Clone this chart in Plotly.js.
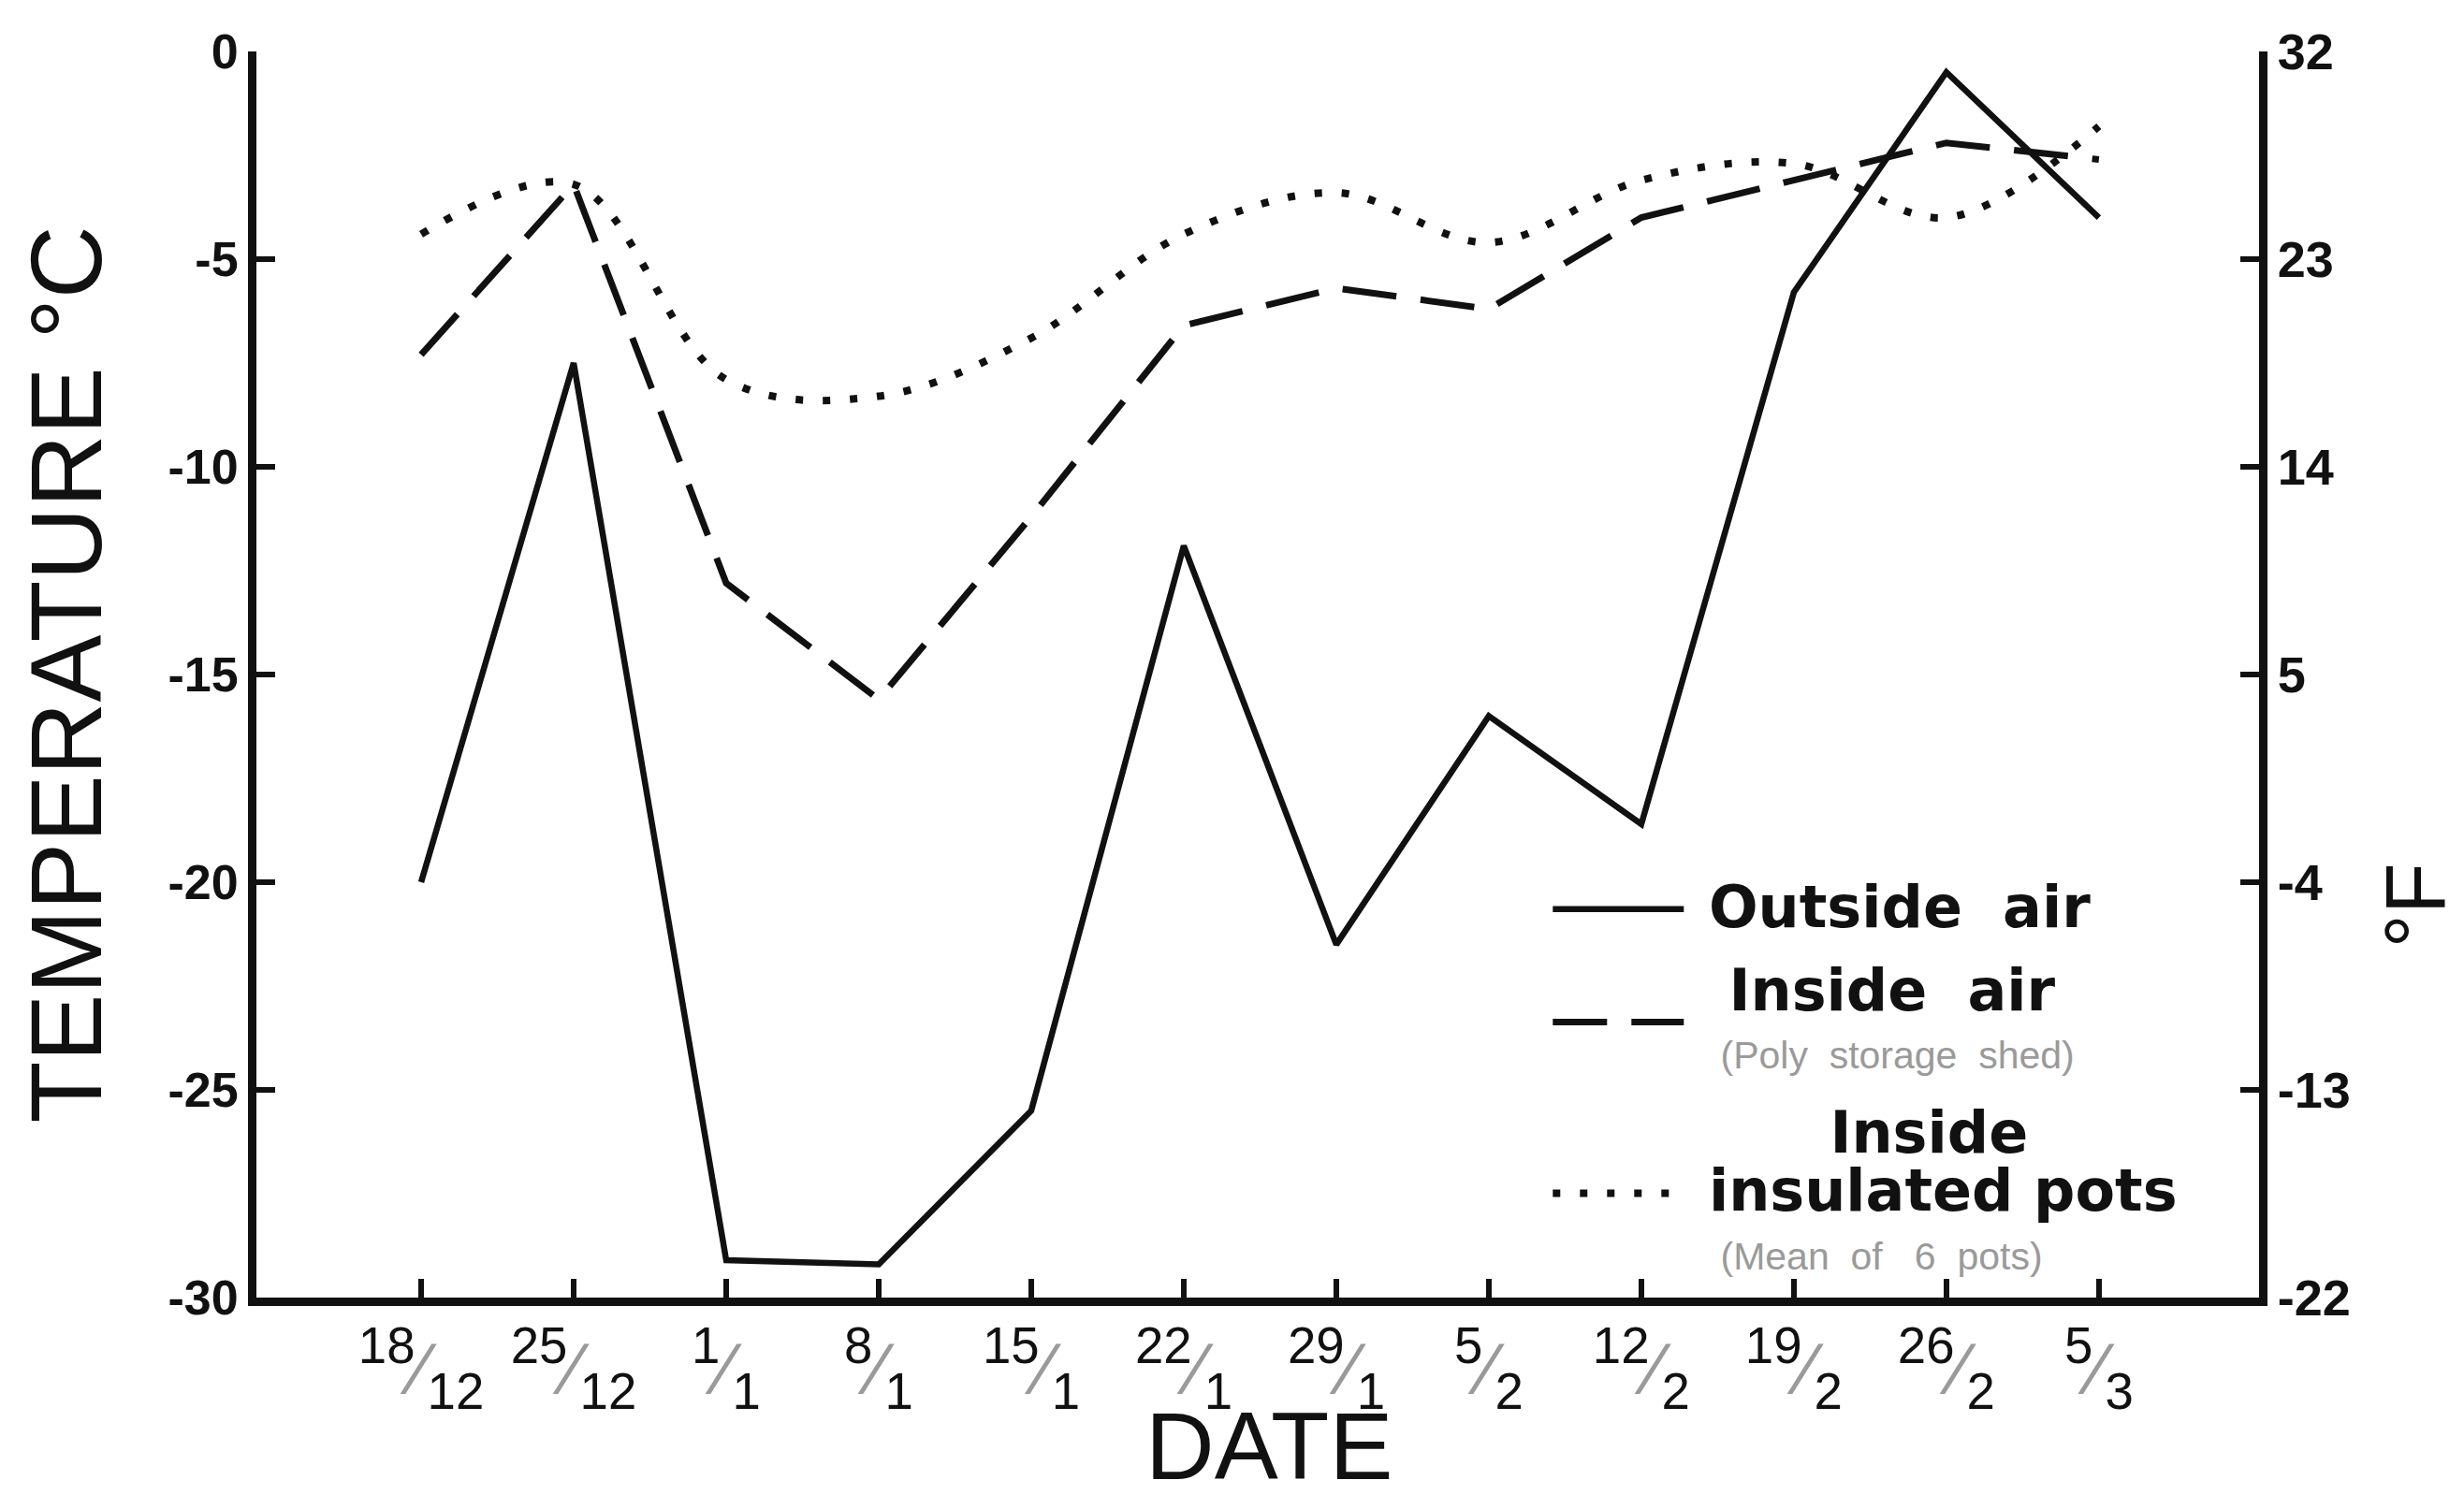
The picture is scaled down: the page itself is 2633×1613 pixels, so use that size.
<!DOCTYPE html>
<html>
<head>
<meta charset="utf-8">
<script src="https://cdn.plot.ly/plotly-3.0.1.min.js"></script>
<style>html,body{margin:0;padding:0;background:#fff;}#chart{width:2633px;height:1613px;}</style>
</head>
<body>
<div id="chart"></div>
<script>
// ---- data ----
const dates = ['18/12','25/12','1/1','8/1','15/1','22/1','29/1','5/2','12/2','19/2','26/2','5/3'];
const outsideAir = [-20.0, -7.5, -29.1, -29.2, -25.5, -11.9, -21.5, -16.0, -18.6, -5.8, -0.5, -4.0];
const insideAir  = [-7.3, -3.2, -12.8, -15.6, -11.2, -6.6, -5.7, -6.2, -4.0, -3.1, -2.2, -2.6];
const insidePots = [-4.4, -3.2, -7.9, -8.3, -6.9, -4.4, -3.4, -4.6, -3.1, -2.7, -4.0, -1.8];
const celsiusTicks = [0, -5, -10, -15, -20, -25, -30];
const fahrenheitTicks = [32, 23, 14, 5, -4, -13, -22];
const BIG = '<span style="font-size:62px">';
const SMALL = '<span style="font-size:41px;color:#9a9a9a;font-weight:normal;font-family:Liberation Sans, Arial, sans-serif">';
const NB = '\u00a0';
const seriesNames = [
  BIG + NB + 'Outside' + NB + NB + 'air</span>',
  BIG + NB + NB + 'Inside' + NB + NB + 'air</span><br>' + SMALL + NB + NB + NB + '(Poly' + NB + NB + 'storage' + NB + NB + 'shed)</span>',
  BIG + NB + NB + NB + NB + NB + NB + NB + 'Inside</span><br>' + BIG + NB + 'insulated' + NB + 'pots</span><br>' + SMALL + NB + NB + NB + '(Mean' + NB + NB + 'of' + NB + NB + NB + '6' + NB + NB + 'pots)</span>'
];

// fraction style tick labels built from the dates
const dateLabels = dates.map(d => {
  const p = d.split('/');
  return '<sup>' + p[0] + '</sup><span style="color:#9a9a9a">\u2044</span><sub>' + p[1] + '</sub>';
});

const FONT = 'Liberation Sans, Arial, sans-serif';
const LEGFONT = 'DejaVu Sans, Liberation Sans, sans-serif';

const traces = [
  {x: dates, y: outsideAir, name: seriesNames[0], type: 'scatter', mode: 'lines', legendgroup: 'a',
   line: {color: '#111', width: 6.5}},
  {x: dates, y: insideAir, name: seriesNames[1], type: 'scatter', mode: 'lines', legendgroup: 'b',
   line: {color: '#111', width: 7, dash: '58px,26px'}},
  {x: dates, y: insidePots, name: seriesNames[2], type: 'scatter', mode: 'lines', legendgroup: 'c',
   line: {color: '#111', width: 8, dash: '8px,21px', shape: 'spline', smoothing: 1}},
  // carries the Fahrenheit axis (no marks)
  {x: [], y: [], type: 'scatter', mode: 'lines', yaxis: 'y2', showlegend: false, hoverinfo: 'skip'}
];

const layout = {
  width: 2633, height: 1613,
  paper_bgcolor: '#fff', plot_bgcolor: '#fff',
  margin: {l: 274, r: 219, t: 55, b: 226},
  font: {family: FONT, color: '#111'},
  showlegend: true,
  legend: {
    x: 0.645, y: 0.34, xanchor: 'left', yanchor: 'top',
    bgcolor: 'rgba(0,0,0,0)', borderwidth: 0,
    font: {family: LEGFONT, size: 48, color: '#111', weight: 'bold'},
    itemwidth: 140, tracegroupgap: 24, valign: 'middle',
    itemclick: false, itemdoubleclick: false
  },
  xaxis: {
    type: 'category', range: [-1.08, 12.05],
    tickmode: 'array', tickvals: dates, ticktext: dateLabels,
    ticks: 'inside', ticklen: 20, tickwidth: 6, tickcolor: '#111',
    showline: true, linewidth: 9, linecolor: '#111', mirror: false,
    showgrid: false, zeroline: false,
    tickfont: {family: 'Liberation Sans Narrow, Liberation Sans, Arial, sans-serif', size: 78, color: '#111'}
  },
  yaxis: {
    range: [-30, 0],
    tickmode: 'array', tickvals: celsiusTicks, ticktext: celsiusTicks.map(String),
    ticks: 'inside', ticklen: 20, tickwidth: 6, tickcolor: '#111',
    showline: true, linewidth: 9, linecolor: '#111',
    showgrid: false, zeroline: false,
    tickfont: {family: FONT, size: 52, color: '#111', weight: 'bold'},
    title: {text: 'TEMPERATURE \u00b0C', font: {family: FONT, size: 108, color: '#111'}, standoff: 38}
  },
  yaxis2: {
    overlaying: 'y', side: 'right', range: [-22, 32],
    tickmode: 'array', tickvals: fahrenheitTicks, ticktext: fahrenheitTicks.map(String),
    ticks: 'inside', ticklen: 20, tickwidth: 6, tickcolor: '#111',
    showline: true, linewidth: 9, linecolor: '#111',
    showgrid: false, zeroline: false,
    tickfont: {family: FONT, size: 54, color: '#111', weight: 'bold'}
  },
  annotations: [
    {text: 'DATE', xref: 'paper', yref: 'paper', x: 0.5056, y: -0.119, showarrow: false,
     font: {family: FONT, size: 102, color: '#111'}, xanchor: 'center', yanchor: 'middle'},
    {text: '\u00b0F', xref: 'paper', yref: 'paper', x: 1.078, y: 0.315, showarrow: false,
     textangle: -90, font: {family: FONT, size: 90, color: '#111'}, xanchor: 'center', yanchor: 'middle'}
  ]
};

Plotly.newPlot('chart', traces, layout, {staticPlot: true, displayModeBar: false});
</script>
</body>
</html>
